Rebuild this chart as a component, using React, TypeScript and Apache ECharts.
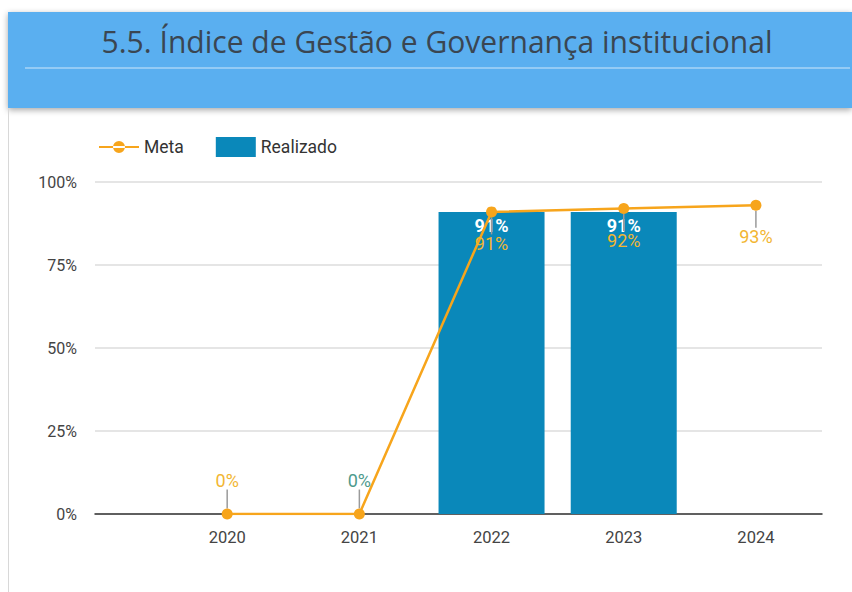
import React, { useEffect, useRef } from "react";
import * as echarts from "echarts";

const TITLE = "5.5. Índice de Gestão e Governança institucional";
const YEARS = [2020, 2021, 2022, 2023, 2024];
const META = [0, 0, 91, 92, 93];
const REALIZADO: (number | null)[] = [null, 0, 91, 91, null];
const Y_TICKS = [0, 25, 50, 75, 100];

export default function App() {
  const ref = useRef<HTMLDivElement>(null);
  useEffect(() => {
    document.body.style.margin = "0";
    const chart = echarts.init(ref.current!, null, { renderer: "svg" });
    const orange = "#f7a51c";
    const metaData = YEARS.map((y, i) => ({
      value: [y, META[i]],
      label: {
        position: META[i] < 50 ? "top" : "bottom",
        color: i === 1 ? "#4e9a8c" : "#f2b632",
      },
    }));
    const realData = YEARS.map((y, i) => [y, REALIZADO[i]]);
    chart.setOption({
      animation: false,
      backgroundColor: "#ffffff",
      textStyle: { fontFamily: "Roboto" },
      graphic: [
        {
          type: "rect",
          shape: { x: 8, y: 12, width: 844, height: 96 },
          style: { fill: "#5aaff0", shadowBlur: 6, shadowColor: "rgba(0,0,0,0.35)", shadowOffsetY: 2 },
          z: 0,
        },
        {
          type: "line",
          shape: { x1: 25, y1: 68, x2: 850, y2: 68 },
          style: { stroke: "#a9d5f7", lineWidth: 1.5 },
          z: 1,
        },
        {
          type: "rect",
          shape: { x: 8, y: 108, width: 1, height: 484 },
          style: { fill: "#d8d8d8" },
          z: 1,
        },
        {
          type: "text",
          x: 437,
          y: 41,
          scaleX: 0.97,
          style: {
            text: TITLE,
            fill: "#3a4652",
            font: "31px 'Open Sans'",
            textAlign: "center",
            textVerticalAlign: "middle",
          },
          z: 2,
        },
      ],
      legend: {
        left: 94,
        top: 132,
        itemGap: 32,
        itemWidth: 40,
        itemHeight: 20,
        textStyle: { fontSize: 17.5, color: "#333333", fontFamily: "Roboto" },
        data: [
          { name: "Meta", icon: "path://M0,9 L40,9 L40,11 L0,11 Z M14,10 A6,6 0 1,0 26,10 A6,6 0 1,0 14,10 Z" },
          { name: "Realizado", icon: "rect" },
        ],
      },
      grid: { left: 95, right: 30, top: 182, bottom: 78 },
      xAxis: {
        type: "value",
        min: 2019,
        max: 2024.5,
        interval: 1,
        axisLine: { show: true, lineStyle: { color: "#333333", width: 1.5 } },
        axisTick: { show: false },
        splitLine: { show: false },
        axisLabel: {
          fontSize: 16.5,
          color: "#444444",
          margin: 15,
          formatter: (v: number) => (YEARS.includes(v) ? String(v) : ""),
        },
      },
      yAxis: {
        type: "value",
        min: 0,
        max: 100,
        interval: 25,
        axisLine: { show: false },
        axisTick: { show: false },
        splitLine: { lineStyle: { color: "#dddddd", width: 1.5 } },
        axisLabel: {
          fontSize: 16,
          color: "#444444",
          margin: 18,
          formatter: (v: number) => (Y_TICKS.includes(v) ? v + "%" : ""),
        },
      },
      series: [
        {
          name: "Realizado",
          type: "bar",
          barWidth: 106,
          data: realData,
          itemStyle: { color: "#0a88ba" },
          label: {
            show: true,
            position: "insideTop",
            distance: 5,
            color: "#ffffff",
            fontSize: 18,
            fontWeight: "bold",
            formatter: (p: any) => (p.value[1] > 0 ? p.value[1] + "%" : ""),
          },
        },
        {
          name: "Meta",
          type: "line",
          data: metaData,
          symbol: "circle",
          symbolSize: 11,
          lineStyle: { color: orange, width: 2.5 },
          itemStyle: { color: orange },
          label: {
            show: true,
            fontSize: 18,
            distance: 5,
            formatter: (p: any) => p.value[1] + "%",
          },
          labelLayout: (p: any) => {
            const v = META[p.dataIndex];
            return { dy: v < 50 ? -14 : 12 };
          },
          labelLine: { show: true, lineStyle: { color: "#9a9a9a", width: 1.5 } },
          z: 5,
        },
      ],
    });
    return () => chart.dispose();
  }, []);
  return <div ref={ref} style={{ width: 852, height: 592, position: "absolute", left: 0, top: 0 }} />;
}
